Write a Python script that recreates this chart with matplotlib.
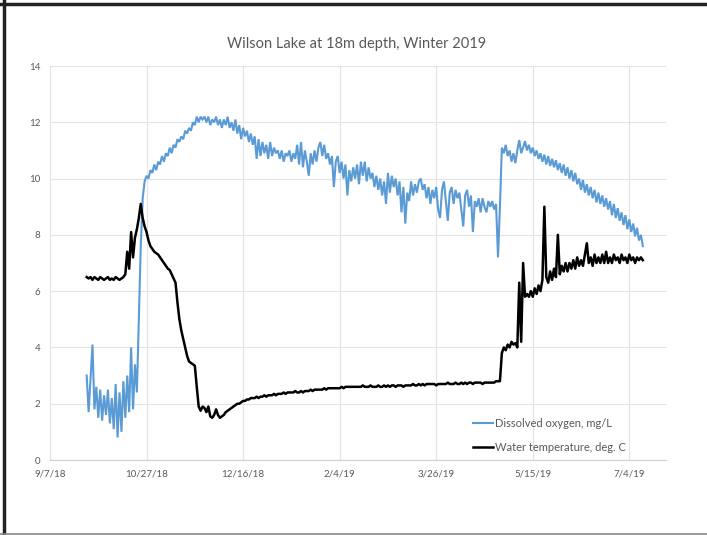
import numpy as np
import pandas as pd
import matplotlib
matplotlib.use("Agg")
import matplotlib.pyplot as plt
from matplotlib.lines import Line2D

plt.rcParams['font.family'] = ['Lato', 'DejaVu Sans']

# daily readings starting 2018-09-26
first_day = "2018-09-26"

dissolved_oxygen = [
    3.0, 1.7, 2.9, 4.1, 1.8, 2.6, 1.5, 2.5, 1.4, 2.3,
    1.6, 2.5, 1.3, 2.2, 1.1, 2.7, 0.8, 2.4, 1.0, 2.8,
    1.5, 3.0, 1.7, 4.0, 1.8, 3.4, 2.4, 5.0, 7.6, 9.3,
    9.9, 10.1, 10.0, 10.3, 10.2, 10.5, 10.3, 10.6, 10.5, 10.8,
    10.6, 10.9, 10.8, 11.1, 10.9, 11.2, 11.1, 11.4, 11.3, 11.5,
    11.4, 11.7, 11.6, 11.8, 11.7, 12.0, 11.9, 12.2, 12.0, 12.2,
    12.1, 12.2, 12.0, 12.2, 11.9, 12.1, 12.0, 12.2, 11.9, 12.1,
    11.8, 12.1, 11.9, 12.2, 11.8, 12.0, 11.7, 12.1, 11.6, 11.9,
    11.4, 11.8, 11.5, 11.7, 11.3, 11.6, 11.2, 11.5, 10.7, 11.4,
    10.8, 11.3, 10.9, 11.2, 10.7, 11.3, 10.8, 11.1, 10.9, 11.0,
    10.7, 11.0, 10.6, 10.9, 10.8, 11.0, 10.6, 10.9, 10.7, 11.2,
    10.5, 11.3, 10.4, 11.0, 10.6, 10.1, 10.9, 10.5, 11.0, 10.6,
    11.1, 11.3, 10.8, 11.2, 10.7, 10.9, 10.5, 10.8, 9.7, 10.6,
    10.8, 10.2, 10.6, 10.0, 10.5, 9.4, 10.3, 9.9, 10.4, 10.0,
    10.5, 9.8, 10.6, 10.1, 10.6, 9.9, 10.4, 10.0, 10.2, 9.7,
    10.1, 9.6, 10.0, 9.4, 9.9, 9.1, 10.2, 9.5, 10.1, 9.7,
    10.0, 9.4, 9.9, 8.8, 9.7, 8.4, 9.5, 9.2, 9.9, 9.4,
    9.8, 9.5, 9.9, 10.0, 9.6, 9.8, 9.3, 9.7, 9.1, 9.6,
    9.3, 9.7, 8.9, 8.6, 9.6, 9.9, 9.2, 8.5, 9.5, 9.7,
    9.1, 9.6, 9.3, 9.5, 8.9, 8.3, 9.4, 9.6, 9.0, 9.4,
    8.1, 9.2, 9.0, 9.3, 8.8, 9.3, 9.0, 8.8, 9.2, 9.0,
    9.2, 8.9, 9.1, 7.2, 9.0, 11.1, 10.9, 11.2, 10.8, 11.0,
    10.6, 10.9, 10.55, 11.0, 11.37, 10.9, 11.1, 11.33, 11.0, 11.2,
    10.9, 11.1, 10.8, 11.0, 10.7, 10.9, 10.6, 10.85, 10.5, 10.8,
    10.45, 10.7, 10.4, 10.65, 10.3, 10.55, 10.2, 10.5, 10.1, 10.4,
    10.0, 10.3, 9.9, 10.2, 9.8, 10.0, 9.6, 9.95, 9.5, 9.8,
    9.4, 9.7, 9.3, 9.6, 9.15, 9.5, 9.1, 9.4, 9.0, 9.3,
    8.9, 9.2, 8.7, 9.1, 8.6, 8.95, 8.5, 8.8, 8.35, 8.7,
    8.2, 8.55, 8.1, 8.4, 7.95, 8.25, 7.8, 8.0, 7.6,
]

water_temp = [
    6.5, 6.45, 6.5, 6.4, 6.5, 6.45, 6.4, 6.5, 6.45, 6.4,
    6.45, 6.5, 6.4, 6.45, 6.4, 6.5, 6.45, 6.4, 6.45, 6.5,
    6.6, 7.4, 6.8, 8.1, 7.2, 7.9, 8.2, 8.6, 9.1, 8.6,
    8.3, 8.1, 7.8, 7.6, 7.5, 7.4, 7.35, 7.3, 7.2, 7.1,
    7.0, 6.9, 6.8, 6.75, 6.6, 6.45, 6.3, 5.6, 5.0, 4.6,
    4.3, 4.0, 3.7, 3.5, 3.45, 3.4, 3.35, 2.6, 1.9, 1.75,
    1.9, 1.85, 1.7, 1.9, 1.55, 1.5, 1.6, 1.8, 1.6, 1.5,
    1.55, 1.6, 1.7, 1.75, 1.8, 1.85, 1.9, 1.95, 2.0, 2.0,
    2.05, 2.1, 2.1, 2.15, 2.15, 2.2, 2.2, 2.2, 2.25, 2.2,
    2.25, 2.25, 2.3, 2.25, 2.3, 2.3, 2.3, 2.35, 2.3, 2.35,
    2.35, 2.35, 2.4, 2.35, 2.4, 2.4, 2.4, 2.4, 2.45, 2.4,
    2.4, 2.45, 2.4, 2.45, 2.45, 2.45, 2.5, 2.45, 2.5, 2.5,
    2.5, 2.5, 2.5, 2.55, 2.5, 2.55, 2.55, 2.55, 2.55, 2.55,
    2.55, 2.55, 2.6, 2.55, 2.6, 2.6, 2.6, 2.6, 2.6, 2.6,
    2.6, 2.6, 2.6, 2.65, 2.6, 2.6, 2.6, 2.65, 2.6, 2.6,
    2.6, 2.65, 2.6, 2.6, 2.65, 2.6, 2.65, 2.6, 2.65, 2.65,
    2.6, 2.65, 2.65, 2.65, 2.6, 2.65, 2.65, 2.65, 2.65, 2.7,
    2.65, 2.65, 2.7, 2.65, 2.7, 2.65, 2.7, 2.7, 2.7, 2.7,
    2.7, 2.65, 2.7, 2.7, 2.7, 2.7, 2.7, 2.75, 2.7, 2.7,
    2.7, 2.75, 2.7, 2.7, 2.75, 2.7, 2.75, 2.7, 2.75, 2.75,
    2.7, 2.75, 2.75, 2.75, 2.75, 2.7, 2.75, 2.75, 2.75, 2.75,
    2.75, 2.75, 2.8, 2.8, 2.8, 3.8, 4.0, 3.9, 4.1, 4.0,
    4.2, 4.1, 4.15, 4.0, 6.3, 4.2, 7.0, 5.8, 5.9, 5.8,
    6.0, 5.8, 6.1, 5.9, 6.2, 6.0, 6.4, 9.0, 6.5, 6.3,
    6.7, 6.4, 6.8, 6.5, 8.0, 6.6, 6.9, 6.7, 7.0, 6.7,
    7.0, 6.8, 7.1, 6.8, 7.2, 6.9, 7.1, 6.9, 7.3, 7.7,
    7.0, 7.2, 6.9, 7.3, 7.0, 7.2, 7.0, 7.3, 7.0, 7.4,
    7.0, 7.2, 7.0, 7.3, 7.1, 7.2, 7.0, 7.3, 7.1, 7.2,
    7.0, 7.3, 7.1, 7.2, 7.0, 7.2, 7.1, 7.2, 7.1,
]

tick_dates = ["2018-09-07", "2018-10-27", "2018-12-16", "2019-02-04",
              "2019-03-26", "2019-05-15", "2019-07-04"]
x_end = "2019-07-23"

dates = pd.date_range(first_day, periods=len(dissolved_oxygen), freq="D")

fig = plt.figure(figsize=(7.07, 5.35), dpi=100)
ax = fig.add_axes([50/707, 75/535, 616/707, 394/535])

ax.plot(dates, dissolved_oxygen, color="#5B9BD5", lw=1.5, solid_joinstyle="miter")
ax.plot(dates, water_temp, color="black", lw=1.8)

ticks = pd.to_datetime(tick_dates)
ax.set_xlim(ticks[0], pd.Timestamp(x_end))
ax.set_ylim(0, 14)
ax.set_yticks(range(0, 15, 2))
ax.set_xticks(ticks)
ax.set_xticklabels([f"{d.month}/{d.day}/{d.year % 100}" for d in ticks])

ax.grid(True, color="#E3E3E3", lw=0.8)
ax.set_axisbelow(True)
for s in ["top", "right"]:
    ax.spines[s].set_visible(False)
ax.spines["left"].set_color("#E3E3E3")
ax.spines["bottom"].set_color("#D0D0D0")
ax.tick_params(length=0, labelsize=7, colors="#595959", pad=7)

fig.text(0.505, 1 - 44/535, "Wilson Lake at 18m depth, Winter 2019",
         ha="center", va="center", fontsize=10.5, color="#595959")

handles = [Line2D([], [], color="#5B9BD5", lw=1.5), Line2D([], [], color="black", lw=1.8)]
ax.legend(handles, ["Dissolved oxygen, mg/L", "Water temperature, deg. C"],
          loc="upper left", bbox_to_anchor=(467/707, 1 - 412/535),
          bbox_transform=fig.transFigure, frameon=False, fontsize=8,
          labelcolor="#595959", handlelength=1.8, handletextpad=0.2,
          labelspacing=1.2, borderpad=0)

# dark frame around the picture
fig.add_artist(Line2D([4/707, 4/707], [0, 1], transform=fig.transFigure, color="#222222", lw=2.5))
fig.add_artist(Line2D([0, 1], [1 - 4/535, 1 - 4/535], transform=fig.transFigure, color="#222222", lw=2.5))
fig.add_artist(Line2D([0, 1], [1.5/535, 1.5/535], transform=fig.transFigure, color="#888888", lw=1.2))

fig.savefig("out.png", dpi=100)
